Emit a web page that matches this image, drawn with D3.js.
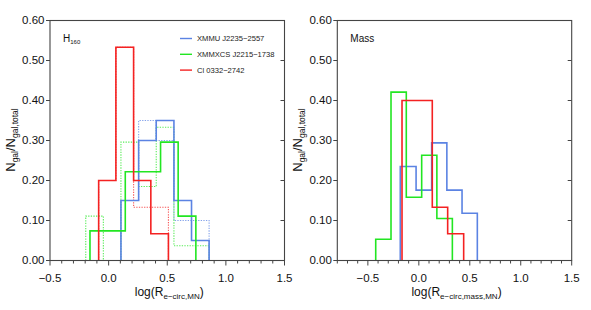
<!DOCTYPE html>
<html>
<head>
<meta charset="utf-8">
<script src="https://cdn.jsdelivr.net/npm/d3@7"></script>
<style>
  html, body { margin:0; padding:0; background:#fff; }
  svg { display:block; font-family:"Liberation Sans", Arial, sans-serif; }
</style>
</head>
<body>
<div id="chart"></div>
<script>
// ---- data ----
var clusters = ["XMMU J2235\u22122557", "XMMXCS J2215\u22121738", "Cl 0332\u22122742"];
var colors = ["#5b83e3", "#22e622", "#f42222"];

var yTicks = [0, 0.1, 0.2, 0.3, 0.4, 0.5, 0.6];
var xTicks = [-0.5, 0, 0.5, 1.0, 1.5];

// H160 panel: bin edges (log R) and fractions
var blueEdges   = [0.105, 0.256, 0.406, 0.557, 0.707, 0.857];
var blueSolid   = [0.15, 0.30, 0.35, 0.15, 0.05];
var blueDotted  = [0.15, 0.35, 0.30, 0.10, 0.10];

var greenEdges  = [-0.159, -0.008, 0.142, 0.293, 0.443, 0.593, 0.744];
var greenSolid  = [0.074, 0.074, 0.222, 0.222, 0.296, 0.111];
var greenDotEdges = [-0.195, -0.045, 0.105, 0.256, 0.406, 0.557, 0.707, 0.857];
var greenDotted = [0.111, 0, 0.296, 0.185, 0.333, 0.037, 0.037];

var redEdges    = [-0.085, 0.062, 0.213, 0.36, 0.51];
var redSolid    = [0.20, 0.533, 0.20, 0.067];
var redDotted   = [0.20, 0.533, 0.133, 0.133];

// Mass panel
var blueMassEdges  = [-0.182, -0.027, 0.126, 0.275, 0.424, 0.574];
var blueMass       = [0.235, 0.176, 0.294, 0.176, 0.118];
var greenMassEdges = [-0.423, -0.273, -0.123, 0.028, 0.177, 0.329];
var greenMass      = [0.053, 0.421, 0.158, 0.263, 0.105];
var redMassEdges   = [-0.165, -0.017, 0.132, 0.283, 0.44];
var redMass        = [0.40, 0.40, 0.133, 0.067];

var W = 591, H = 310;
var svg = d3.select("#chart").append("svg").attr("width", W).attr("height", H);

var y = d3.scaleLinear().domain([0, 0.6]).range([260.5, 20.5]);

function stepPoints(edges, vals) {
  var pts = [[edges[0], 0]];
  vals.forEach(function(v, i) {
    pts.push([edges[i], v]);
    pts.push([edges[i + 1], v]);
  });
  pts.push([edges[edges.length - 1], 0]);
  return pts;
}

function panel(opt) {
  var x = d3.scaleLinear().domain(opt.xdom).range(opt.xr);
  var g = svg.append("g");
  var line = d3.line().x(function(d) { return x(d[0]); }).y(function(d) { return y(d[1]); });

  // histograms
  opt.series.forEach(function(s) {
    g.append("path")
      .attr("d", line(stepPoints(s.edges, s.vals)))
      .attr("fill", "none")
      .attr("stroke", s.color)
      .attr("stroke-width", s.dotted ? 1.1 : 1.6)
      .attr("stroke-opacity", s.dotted ? 0.75 : 1)
      .attr("stroke-dasharray", s.dotted ? "1.3,1.3" : null);
  });

  // frame
  var axisCol = "#444";
  g.append("rect")
    .attr("x", opt.xr[0]).attr("y", y(0.6))
    .attr("width", opt.xr[1] - opt.xr[0]).attr("height", y(0) - y(0.6))
    .attr("fill", "none").attr("stroke", axisCol).attr("stroke-width", 1.1);

  // bottom ticks (outward), minor every 0.1
  var minor = d3.range(Math.round(opt.xdom[0] * 10), Math.round(opt.xdom[1] * 10) + 1).map(function(k) { return k / 10; });
  g.selectAll(".mt").data(minor).enter().append("line")
    .attr("x1", function(d) { return x(d); }).attr("x2", function(d) { return x(d); })
    .attr("y1", y(0)).attr("y2", function(d) {
      return y(0) + (Math.abs(d * 2 - Math.round(d * 2)) < 1e-6 ? 5 : 3);
    })
    .attr("stroke", axisCol).attr("stroke-width", 1);

  g.selectAll(".xl").data(xTicks).enter().append("text")
    .attr("x", function(d) { return x(d); }).attr("y", 281.5)
    .attr("text-anchor", "middle").attr("font-size", 11.5).attr("fill", "#111")
    .text(function(d) { return d3.format(".1f")(d).replace("-", "\u2013"); });

  // y ticks: left outward, right inward
  g.selectAll(".yt").data(yTicks).enter().append("line")
    .attr("x1", opt.xr[0] - 4).attr("x2", opt.xr[0])
    .attr("y1", function(d) { return y(d); }).attr("y2", function(d) { return y(d); })
    .attr("stroke", axisCol).attr("stroke-width", 1);
  g.selectAll(".yr").data(yTicks).enter().append("line")
    .attr("x1", opt.xr[1] - 4).attr("x2", opt.xr[1])
    .attr("y1", function(d) { return y(d); }).attr("y2", function(d) { return y(d); })
    .attr("stroke", axisCol).attr("stroke-width", 1);
  g.selectAll(".yl").data(yTicks).enter().append("text")
    .attr("x", opt.xr[0] - 5.5).attr("y", function(d) { return y(d) + 3.6; })
    .attr("text-anchor", "end").attr("font-size", 11.5).attr("fill", "#111")
    .text(function(d) { return d3.format(".2f")(d); });

  // x title
  var xt = g.append("text")
    .attr("x", (opt.xr[0] + opt.xr[1]) / 2 + 2).attr("y", 295.5)
    .attr("text-anchor", "middle").attr("font-size", 12).attr("fill", "#111");
  xt.append("tspan").text("log(R");
  xt.append("tspan").attr("font-size", 8).attr("dy", 3).text(opt.xsub);
  xt.append("tspan").attr("dy", -3).text(")");

  // y title
  var yt = g.append("text")
    .attr("transform", "translate(" + (opt.xr[0] - 35) + "," + 140 + ") rotate(-90)")
    .attr("text-anchor", "middle").attr("font-size", 13).attr("fill", "#111");
  yt.append("tspan").text("N");
  yt.append("tspan").attr("font-size", 8.5).attr("dy", 3).text("gal");
  yt.append("tspan").attr("dy", -3).text("/N");
  yt.append("tspan").attr("font-size", 8.5).attr("dy", 3).text("gal,total");

  // panel label
  var lab = g.append("text").attr("x", opt.xr[0] + 13).attr("y", 41.5)
    .attr("font-size", 10).attr("fill", "#111");
  lab.append("tspan").text(opt.label);
  if (opt.labelSub) lab.append("tspan").attr("font-size", 6).attr("dy", 2).text(opt.labelSub);

  return g;
}

var left = panel({
  xdom: [-0.5, 1.5], xr: [50, 284.5], xsub: "e\u2212circ,MN", label: "H", labelSub: "160",
  series: [
    { edges: blueEdges, vals: blueDotted, color: colors[0], dotted: true },
    { edges: greenDotEdges, vals: greenDotted, color: colors[1], dotted: true },
    { edges: redEdges, vals: redDotted, color: colors[2], dotted: true },
    { edges: blueEdges, vals: blueSolid, color: colors[0] },
    { edges: greenEdges, vals: greenSolid, color: colors[1] },
    { edges: redEdges, vals: redSolid, color: colors[2] }
  ]
});

panel({
  xdom: [-0.8, 1.5], xr: [337.3, 571.7], xsub: "e\u2212circ,mass,MN", label: "Mass",
  series: [
    { edges: blueMassEdges, vals: blueMass, color: colors[0] },
    { edges: greenMassEdges, vals: greenMass, color: colors[1] },
    { edges: redMassEdges, vals: redMass, color: colors[2] }
  ]
});

// legend
var leg = left.selectAll(".leg").data(clusters).enter().append("g")
  .attr("transform", function(d, i) { return "translate(180," + (38.5 + i * 15.8) + ")"; });
leg.append("line").attr("x1", 0).attr("x2", 12).attr("y1", 0).attr("y2", 0)
  .attr("stroke", function(d, i) { return colors[i]; }).attr("stroke-width", 1.4);
leg.append("text").attr("x", 17).attr("y", 2.7).attr("font-size", 7.6).attr("fill", "#222")
  .text(function(d) { return d; });
</script>
</body>
</html>
